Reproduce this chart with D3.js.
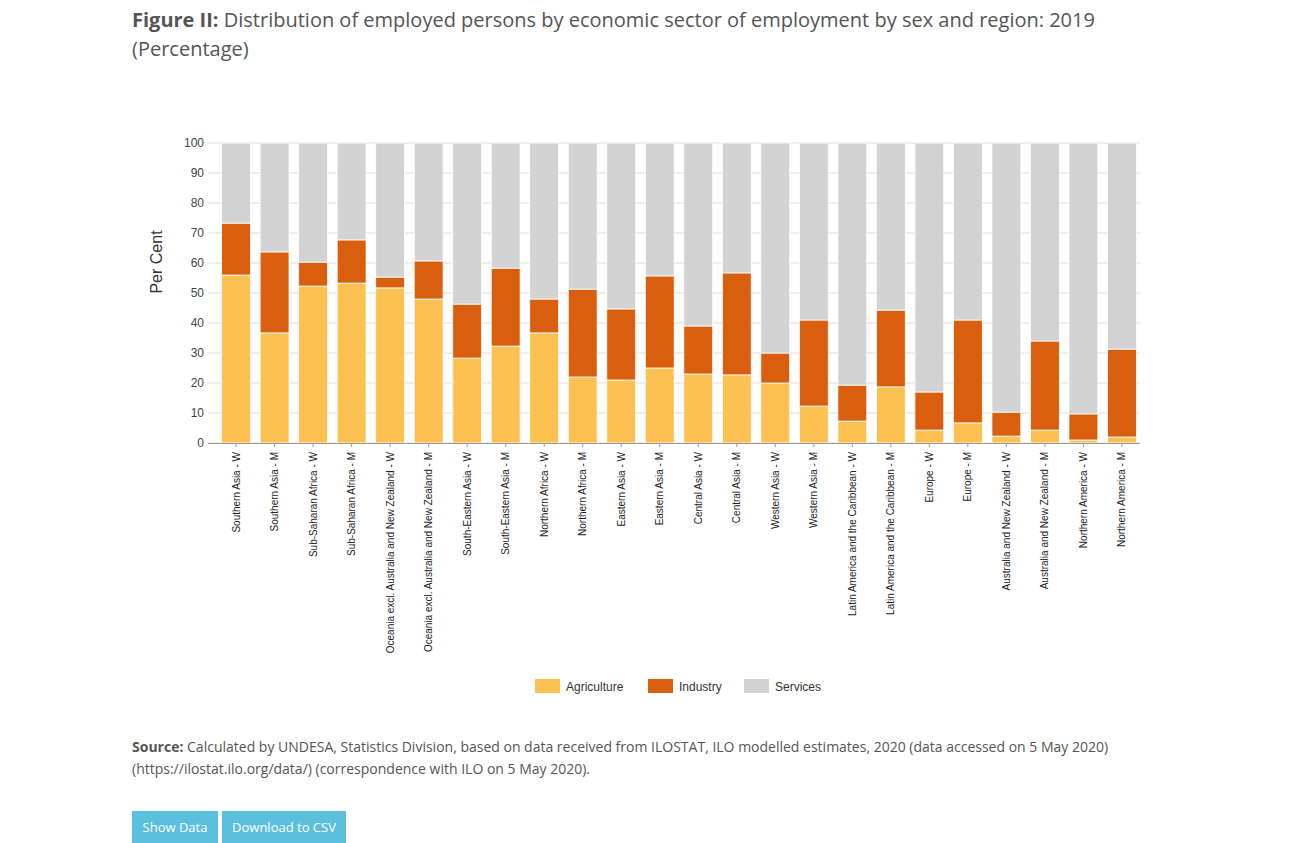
<!DOCTYPE html>
<html><head><meta charset="utf-8">
<script src="https://cdn.jsdelivr.net/npm/d3@7"></script>
<style>
body{margin:0;background:#fff;font-family:"Open Sans",sans-serif;}
#title{position:absolute;left:132px;top:5px;width:1040px;font-size:20px;color:#555;line-height:29px;}
#src{position:absolute;left:132px;top:736px;width:1000px;font-size:14px;color:#555;line-height:22px;}
.btn{position:absolute;top:811px;height:32px;background:#5bc0de;color:#fff;font-size:13px;line-height:32px;text-align:center;}
</style></head><body>
<div id="title"><b>Figure II:</b> Distribution of employed persons by economic sector of employment by sex and region: 2019 (Percentage)</div>
<svg id="c" width="1295" height="843" style="position:absolute;left:0;top:0"></svg>
<div id="src"><b>Source:</b> Calculated by UNDESA, Statistics Division, based on data received from ILOSTAT, ILO modelled estimates, 2020 (data accessed on 5 May 2020) (https://ilostat.ilo.org/data/) (correspondence with ILO on 5 May 2020).</div>
<div class="btn" style="left:132px;width:86px">Show Data</div>
<div class="btn" style="left:222px;width:124px">Download to CSV</div>
<script>
const categories=["Southern Asia - W","Southern Asia - M","Sub-Saharan Africa - W","Sub-Saharan Africa - M","Oceania excl. Australia and New Zealand - W","Oceania excl. Australia and New Zealand - M","South-Eastern Asia - W","South-Eastern Asia - M","Northern Africa - W","Northern Africa - M","Eastern Asia - W","Eastern Asia - M","Central Asia - W","Central Asia - M","Western Asia - W","Western Asia - M","Latin America and the Caribbean - W","Latin America and the Caribbean - M","Europe - W","Europe - M","Australia and New Zealand - W","Australia and New Zealand - M","Northern America - W","Northern America - M"];
const agriculture=[56,36.7,52.3,53.3,51.7,48,28.3,32.3,36.7,22,21,25,23,22.7,20,12.3,7.3,18.7,4.3,6.7,2.3,4.3,1,2];
const industry=[17.3,27,8,14.4,3.6,12.7,18,26,11.3,29.3,23.7,30.7,16,34,10,28.7,12,25.6,12.7,34.3,8,29.7,8.7,29.3];
const services=agriculture.map((a,i)=>+(100-a-industry[i]).toFixed(1));
const seriesNames=["Agriculture","Industry","Services"];
const colors=["#fdc152","#d95f0e","#d3d3d3"];
const yTicks=[0,10,20,30,40,50,60,70,80,90,100];

const svg=d3.select("#c");
const x=d3.scaleBand().domain(categories).range([217,1141]).paddingInner(0.25).paddingOuter(0.12);
const y=d3.scaleLinear().domain([0,100]).range([443,143]);
const data=categories.map((c,i)=>({c,Agriculture:agriculture[i],Industry:industry[i],Services:services[i]}));
const stack=d3.stack().keys(seriesNames)(data);

svg.append("g").selectAll("line").data(yTicks).join("line")
 .attr("x1",208).attr("x2",1140).attr("y1",d=>y(d)).attr("y2",d=>y(d)).attr("stroke","#ddd");
svg.append("g").attr("transform","translate(208,0)").call(d3.axisLeft(y).tickValues(yTicks).tickSize(0).tickPadding(4))
 .call(g=>g.select(".domain").remove()).selectAll("text").attr("font-size",12).attr("fill","#444").attr("font-family","Arial");
svg.selectAll(".layer").data(stack).join("g").attr("fill",(d,i)=>colors[i])
 .selectAll("rect").data(d=>d).join("rect")
 .attr("x",d=>x(d.data.c)).attr("width",x.bandwidth())
 .attr("y",d=>y(d[1])).attr("height",d=>y(d[0])-y(d[1])).attr("stroke","#fff").attr("stroke-width",0.8);
svg.append("line").attr("x1",208).attr("x2",1140).attr("y1",443.5).attr("y2",443.5).attr("stroke","#999");
const xa=svg.append("g").attr("transform","translate(0,443)").call(d3.axisBottom(x).tickSize(4));
xa.select(".domain").remove();
xa.selectAll("line").attr("stroke","#999");
xa.selectAll("text").attr("font-size",10).attr("fill","#222").attr("font-family","Arial")
 .attr("transform","rotate(-90)").attr("text-anchor","end").attr("dy","0.35em").attr("x",-9).attr("y",0);
svg.append("text").attr("transform","translate(162,262) rotate(-90)").attr("text-anchor","middle")
 .attr("font-size",16).attr("font-family","Arial").attr("fill","#333").text("Per Cent");
const lg=svg.append("g").selectAll("g").data(seriesNames).join("g")
 .attr("transform",(d,i)=>`translate(${[535,648,744][i]},679)`);
lg.append("rect").attr("width",25).attr("height",14).attr("fill",(d,i)=>colors[i]);
lg.append("text").attr("x",31).attr("y",12).attr("font-size",12).attr("font-family","Arial").attr("fill","#333").text(d=>d);
</script></body></html>
